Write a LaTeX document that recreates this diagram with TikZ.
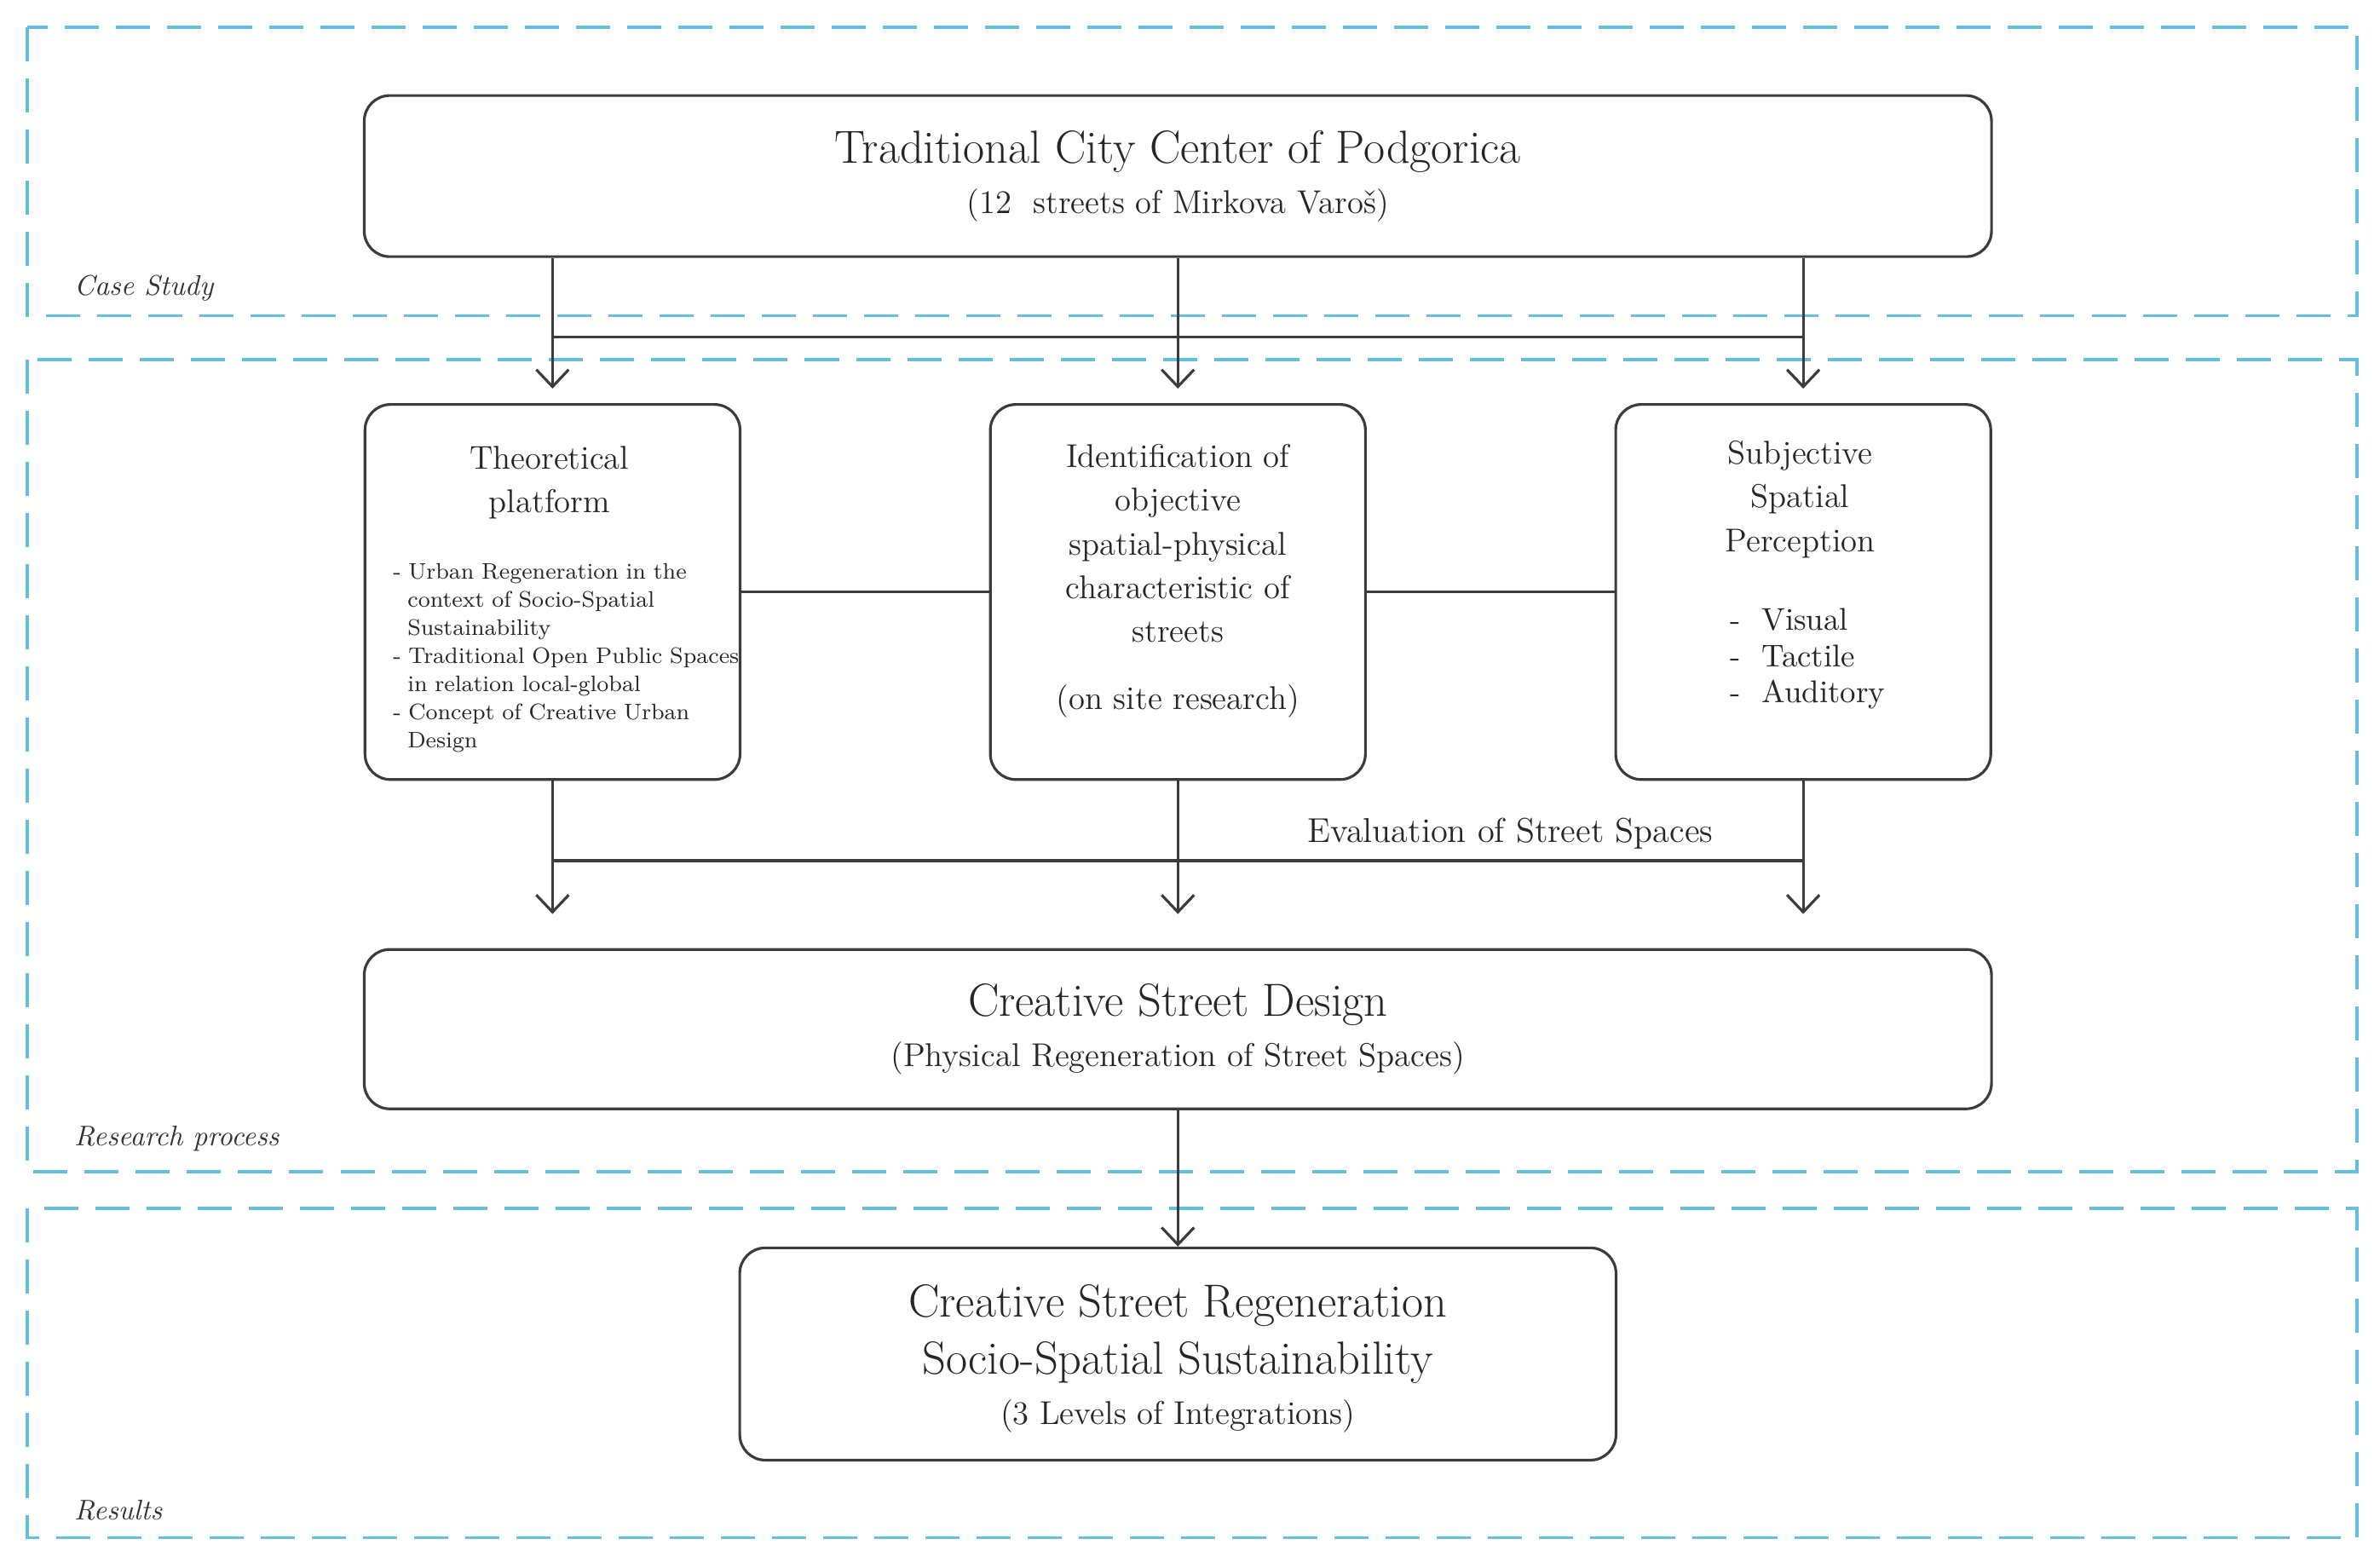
\documentclass[tikz,border=0pt]{standalone}
\usetikzlibrary{arrows.meta}
\definecolor{dash}{RGB}{100,190,220}
\definecolor{ln}{RGB}{60,60,60}
\begin{document}
\begin{tikzpicture}[x=0.01781cm,y=-0.01781cm,
  zone/.style={draw=dash,line width=1.1pt,dash pattern=on 0.4cm off 0.2cm},
  zlabel/.style={anchor=west,font=\itshape\fontsize{9.5}{11}\selectfont,text=black!80},
  box/.style={draw=ln,line width=0.9pt,rounded corners=0.3cm,inner sep=0pt},
  con/.style={draw=ln,line width=0.9pt},
  arr/.style={con,-{Straight Barb[length=0.2cm,width=0.38cm]}},
  t/.style={font=\fontsize{11}{14.6}\selectfont,align=center,text=black!85},
  sm/.style={font=\fontsize{7.5}{9.4}\selectfont,align=left,text=black!85}]
\useasboundingbox (0,0) rectangle (1568,1029);
\draw[zone] (18,18) rectangle (1553,208);
\draw[zone] (18,237) rectangle (1553,772);
\draw[zone] (18,796) rectangle (1553,1013);
\node[zlabel] (l1) at (42,190) {Case Study};
\node[zlabel] (l2) at (42,750) {Research process};
\node[zlabel] (l3) at (42,995) {Results};

\node[box,minimum width=19.09cm,minimum height=1.89cm] (top) at (776,116) {};
\node[t,font=\fontsize{15.5}{18}\selectfont] (topt) at (776,100) {Traditional City Center of Podgorica};
\node[t] (tops) at (776,135) {(12\ \ streets of Mirkova Varo\v{s})};

\node[box,minimum width=4.40cm,minimum height=4.40cm] (a) at (364,390) {};
\node[box,minimum width=4.40cm,minimum height=4.40cm] (b) at (776,390) {};
\node[box,minimum width=4.40cm,minimum height=4.40cm] (c) at (1188,390) {};

\node[t] (at) at (362,318) {Theoretical\\platform};
\node[sm,anchor=north west,text width=4.15cm] (ab) at (252,364) {\raggedright\hyphenpenalty=10000\exhyphenpenalty=10000
\hangindent=0.17cm\hangafter=1 - Urban Regeneration in the context of Socio-Spatial Sustainability\par
\hangindent=0.17cm\hangafter=1 - Traditional Open Public Spaces in relation local-global\par
\hangindent=0.17cm\hangafter=1 - Concept of Creative Urban Design\par};
\node[t] (bt) at (776,358) {Identification of\\objective\\spatial-physical\\characteristic of\\streets};
\node[t] (bs) at (776,462) {(on site research)};
\node[t] (ct) at (1186,329) {Subjective\\Spatial\\Perception};
\node[t,align=left,anchor=west,font=\fontsize{10.5}{12}\selectfont] (cb) at (1133,434) {-\ \ Visual\\-\ \ Tactile\\-\ \ Auditory};

\node[box,minimum width=19.09cm,minimum height=1.87cm] (d) at (776,678) {};
\node[t,font=\fontsize{15.5}{18}\selectfont] (dt) at (776,662) {Creative Street Design};
\node[t] (ds) at (776,697) {(Physical Regeneration of Street Spaces)};

\node[box,minimum width=10.28cm,minimum height=2.49cm] (e) at (776,892) {};
\node[t,font=\fontsize{15.5}{19}\selectfont] (et) at (776,879) {Creative Street Regeneration\\Socio-Spatial Sustainability};
\node[t] (es) at (776,933) {(3 Levels of Integrations)};

\draw[arr] (top.south -| a) -- ([yshift=0.17cm]a.north);
\draw[arr] (top.south -| b) -- ([yshift=0.17cm]b.north);
\draw[arr] (top.south -| c) -- ([yshift=0.17cm]c.north);
\coordinate (h1) at (364,222); \coordinate (h2) at (1189,222);
\draw[con] (h1) -- (h2);
\draw[con] (a.east) -- (b.west);
\draw[con] (b.east) -- (c.west);
\draw[arr] (a.south) -- ([yshift=0.4cm]d.north -| a);
\draw[arr] (b.south) -- ([yshift=0.4cm]d.north -| b);
\draw[arr] (c.south) -- ([yshift=0.4cm]d.north -| c);
\coordinate (g1) at (364,567); \coordinate (g2) at (1189,567);
\draw[con] (g1) -- (g2);
\node[t,font=\fontsize{11.5}{14}\selectfont] (ev) at (995,549) {Evaluation of Street Spaces};
\draw[arr] (d.south) -- (e.north);
\end{tikzpicture}
\end{document}
